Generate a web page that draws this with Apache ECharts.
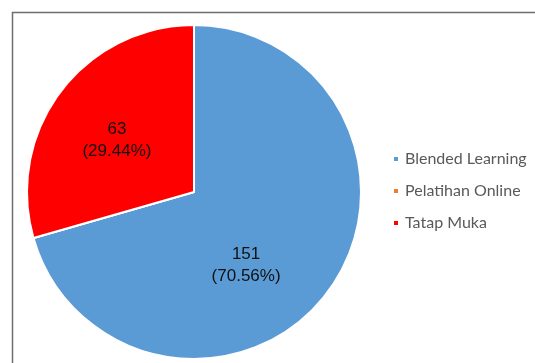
<!DOCTYPE html>
<html><head><meta charset="utf-8">
<script src="https://cdn.jsdelivr.net/npm/echarts@6/dist/echarts.min.js"></script>
<style>html,body{margin:0;padding:0;background:#fff}#c{width:535px;height:363px}</style>
</head><body><div id="c"></div>
<script>
const categories = ['Blended Learning', 'Pelatihan Online', 'Tatap Muka'];
const values = [151, 0, 63];
const colors = ['#5B9BD5', '#ED7D31', '#FF0000'];
const labelOffsets = [[-17, 21], [0, 0], [-8, 0]];

const chart = echarts.init(document.getElementById('c'), null, {renderer: 'canvas'});
const data = categories.map((n, i) => ({
  name: n, value: values[i],
  itemStyle: {color: colors[i]},
  label: values[i] === 0 ? {show: false} : {offset: labelOffsets[i]}
}));
chart.setOption({
  animation: false,
  graphic: [{
    type: 'rect', shape: {x: 12.5, y: 12.5, width: 600, height: 400},
    style: {fill: 'none', stroke: '#6e6e6e', lineWidth: 1.5}, silent: true
  }],
  legend: {
    orient: 'vertical', left: 387, top: 145,
    itemWidth: 6, itemHeight: 6, itemGap: 14,
    icon: 'rect',
    textStyle: {fontFamily: 'Lato', fontSize: 16, color: '#595959', lineHeight: 18, padding: [0, 0, 0, 1]},
    data: categories
  },
  series: [{
    type: 'pie',
    center: [194, 192], radius: [0, 167],
    startAngle: 90, clockwise: true,
    itemStyle: {borderColor: '#fff', borderWidth: 2},
    label: {
      show: true, position: 'inside',
      formatter: p => p.value + '\n(' + p.percent.toFixed(2) + '%)',
      fontFamily: 'Liberation Sans', fontSize: 17, color: '#111', lineHeight: 22
    },
    labelLine: {show: false},
    emphasis: {disabled: true},
    percentPrecision: 2,
    data: data
  }]
});
</script></body></html>
